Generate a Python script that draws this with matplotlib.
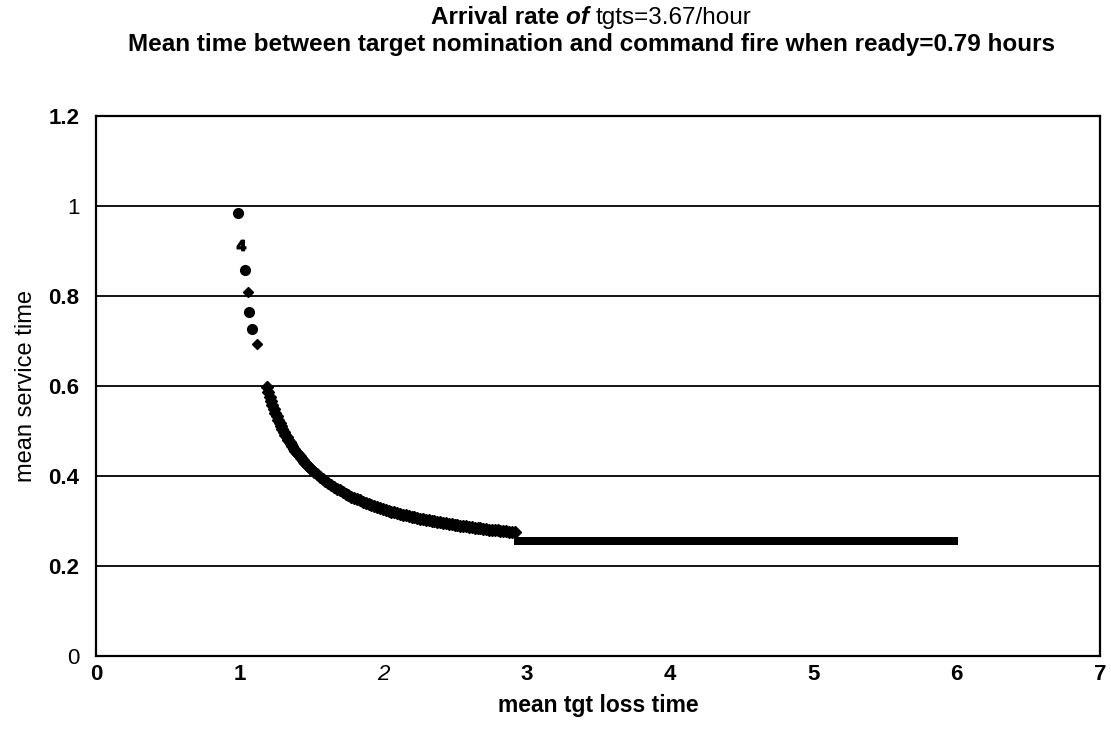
import matplotlib
matplotlib.use("Agg")
import matplotlib.pyplot as plt

# ---- data ----
early_x = [0.99, 1.04, 1.07, 1.09]
early_y = [0.984, 0.858, 0.764, 0.727]
early_d_x = [1.06, 1.12]
early_d_y = [0.809, 0.693]
glyph_x = [1.01]
glyph_y = [0.913]

curve_x = [1.19, 1.20, 1.21, 1.22, 1.23, 1.24, 1.25, 1.26, 1.27, 1.28,
           1.29, 1.30, 1.31, 1.32, 1.33, 1.34, 1.35, 1.36, 1.37, 1.38,
           1.39, 1.40, 1.41, 1.42, 1.43, 1.44, 1.45, 1.46, 1.47, 1.48,
           1.49, 1.50, 1.52, 1.54, 1.56, 1.58, 1.60, 1.62, 1.64, 1.66,
           1.68, 1.70, 1.72, 1.74, 1.76, 1.78, 1.80, 1.82, 1.84, 1.86,
           1.88, 1.90, 1.92, 1.94, 1.96, 1.98, 2.00, 2.02, 2.04, 2.06,
           2.08, 2.10, 2.12, 2.14, 2.16, 2.18, 2.20, 2.22, 2.24, 2.26,
           2.28, 2.30, 2.32, 2.34, 2.36, 2.38, 2.40, 2.42, 2.44, 2.46,
           2.48, 2.50, 2.52, 2.54, 2.56, 2.58, 2.60, 2.62, 2.64, 2.66,
           2.68, 2.70, 2.72, 2.74, 2.76, 2.78, 2.80, 2.82, 2.84, 2.86,
           2.88, 2.90, 2.92]
curve_y = [0.597, 0.586, 0.576, 0.567, 0.557, 0.549, 0.540, 0.533, 0.525, 0.518,
           0.511, 0.505, 0.498, 0.492, 0.487, 0.481, 0.476, 0.471, 0.466, 0.461,
           0.456, 0.452, 0.448, 0.444, 0.440, 0.436, 0.432, 0.429, 0.425, 0.422,
           0.418, 0.415, 0.409, 0.404, 0.398, 0.393, 0.388, 0.384, 0.379, 0.375,
           0.371, 0.368, 0.364, 0.361, 0.357, 0.354, 0.351, 0.348, 0.346, 0.343,
           0.340, 0.338, 0.335, 0.333, 0.331, 0.329, 0.327, 0.325, 0.323, 0.321,
           0.319, 0.318, 0.316, 0.314, 0.313, 0.311, 0.310, 0.308, 0.307, 0.305,
           0.304, 0.303, 0.302, 0.300, 0.299, 0.298, 0.297, 0.296, 0.295, 0.294,
           0.293, 0.292, 0.291, 0.290, 0.289, 0.288, 0.287, 0.286, 0.285, 0.284,
           0.284, 0.283, 0.282, 0.281, 0.281, 0.280, 0.279, 0.278, 0.278, 0.277,
           0.276, 0.276, 0.275]

flat_x = [2.94, 3.00, 3.05, 3.10, 3.15, 3.20, 3.25, 3.30, 3.35, 3.40,
          3.45, 3.50, 3.55, 3.60, 3.65, 3.70, 3.75, 3.80, 3.85, 3.90,
          3.95, 4.00, 4.05, 4.10, 4.15, 4.20, 4.25, 4.30, 4.35, 4.40,
          4.45, 4.50, 4.55, 4.60, 4.65, 4.70, 4.75, 4.80, 4.85, 4.90,
          4.95, 5.00, 5.05, 5.10, 5.15, 5.20, 5.25, 5.30, 5.35, 5.40,
          5.45, 5.50, 5.55, 5.60, 5.65, 5.70, 5.75, 5.80, 5.85, 5.90,
          5.95, 5.98]
flat_y = [0.255, 0.255, 0.255, 0.255, 0.255, 0.255, 0.255, 0.255, 0.255, 0.255,
          0.255, 0.255, 0.255, 0.255, 0.255, 0.255, 0.255, 0.255, 0.255, 0.255,
          0.255, 0.255, 0.255, 0.255, 0.255, 0.255, 0.255, 0.255, 0.255, 0.255,
          0.255, 0.255, 0.255, 0.255, 0.255, 0.255, 0.255, 0.255, 0.255, 0.255,
          0.255, 0.255, 0.255, 0.255, 0.255, 0.255, 0.255, 0.255, 0.255, 0.255,
          0.255, 0.255, 0.255, 0.255, 0.255, 0.255, 0.255, 0.255, 0.255, 0.255,
          0.255, 0.255]

x_ticks = [0, 1, 2, 3, 4, 5, 6, 7]
x_tick_labels = ["0", "1", "2", "3", "4", "5", "6", "7"]
y_ticks = [0, 0.2, 0.4, 0.6, 0.8, 1.0, 1.2]
y_tick_labels = ["0", "0.2", "0.4", "0.6", "0.8", "1", "1.2"]

title_line1_parts = ["Arrival rate ", "of ", "tgts=3.67/hour"]
title_line2 = "Mean time between target nomination and command fire when ready=0.79 hours"
x_label = "mean tgt loss time"
y_label = "mean service time"

# ---- drawing ----
plt.rcParams['font.family'] = ['Liberation Sans', 'DejaVu Sans']
W, H = 1111, 743
fig = plt.figure(figsize=(W / 100, H / 100), dpi=100)
ax = fig.add_axes([96 / W, 1 - 656 / H, (1100 - 96) / W, (656 - 116) / H])

ax.set_xlim(0, 7)
ax.set_ylim(0, 1.2)

for y in y_ticks[1:-1]:
    ax.axhline(y, color='black', lw=1.3, zorder=1)

ax.plot(early_x, early_y, linestyle='none', marker='o', ms=7, color='black', zorder=3)
ax.plot(early_d_x, early_d_y, linestyle='none', marker='D', ms=5.6, color='black', zorder=3)
ax.plot(glyph_x, glyph_y, linestyle='none', marker=r'$\mathbf{4}$', ms=7.5, color='black', zorder=3)
ax.plot(curve_x, curve_y, linestyle='none', marker='D', ms=6.2, color='black', zorder=3)
ax.plot(flat_x, flat_y, linestyle='none', marker='s', ms=6.2, color='black',
        markeredgewidth=0, zorder=3)

for s in ax.spines.values():
    s.set_color('black')
    s.set_linewidth(1.6)

fs_tick = 16
ax.set_xticks(x_ticks)
ax.set_xticklabels(x_tick_labels, fontsize=fs_tick, fontweight='bold')
ax.xaxis.get_ticklabels()[2].set_fontstyle('italic')
ax.xaxis.get_ticklabels()[2].set_fontweight('normal')
ax.set_yticks(y_ticks)
ax.set_yticklabels(y_tick_labels, fontsize=fs_tick, fontweight='bold')
for i in (0, 5):
    ax.yaxis.get_ticklabels()[i].set_fontweight('normal')
ax.tick_params(axis='x', length=0, pad=6)
ax.tick_params(axis='y', length=0, pad=12)

ax.set_xlabel(x_label, fontsize=16.5, fontweight='bold', labelpad=6)
ax.set_ylabel(y_label, fontsize=17, labelpad=8)

# title line 2 (bold)
fs_title = 17.5
cx = 591 / W
fig.text(cx, 1 - 45 / H, title_line2, ha='center', va='center', fontsize=fs_title, fontweight='bold')

# title line 1 with mixed styles
styles = [dict(fontweight='bold'), dict(fontweight='bold', fontstyle='italic'), dict(fontweight='normal')]
fig.canvas.draw()
r = fig.canvas.get_renderer()
tmp = [fig.text(0, 0, t, fontsize=fs_title, **st) for t, st in zip(title_line1_parts, styles)]
widths = [t.get_window_extent(renderer=r).width for t in tmp]
for t in tmp:
    t.remove()
total = sum(widths)
x0 = cx * W - total / 2
for t, st, w in zip(title_line1_parts, styles, widths):
    fig.text(x0 / W, 1 - 18 / H, t, ha='left', va='center', fontsize=fs_title, **st)
    x0 += w

fig.savefig("out.png", dpi=100)
